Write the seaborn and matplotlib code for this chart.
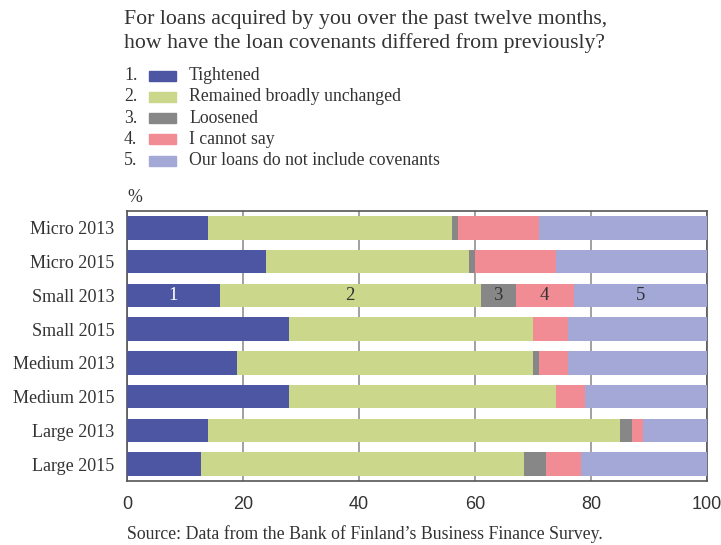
import seaborn as sns
import pandas as pd
import numpy as np
import matplotlib.pyplot as plt
from matplotlib.patches import Rectangle

# Survey answers, % of firms
groups = ['Micro 2013', 'Micro 2015', 'Small 2013', 'Small 2015',
          'Medium 2013', 'Medium 2015', 'Large 2013', 'Large 2015']
tightened = [14, 24, 16, 28, 19, 28, 14, 12.8]
unchanged = [42, 35, 45, 42, 51, 46, 71, 55.6]
loosened = [1, 1, 6, 0, 1, 0, 2, 3.9]
cannot_say = [14, 14, 10, 6, 5, 5, 2, 6.0]
no_covenants = [29, 26, 23, 24, 24, 21, 11, 21.7]

series_names = ['Tightened', 'Remained broadly unchanged', 'Loosened',
                'I cannot say', 'Our loans do not include covenants']
colors = ['#4d56a3', '#cbd78a', '#878787', '#f28c94', '#a3a8d6']
label_row = 'Small 2013'

df = pd.DataFrame({'group': groups,
                   series_names[0]: tightened,
                   series_names[1]: unchanged,
                   series_names[2]: loosened,
                   series_names[3]: cannot_say,
                   series_names[4]: no_covenants})
cum = df[series_names].cumsum(axis=1)
cum['group'] = df['group']

sns.set_theme(style='white')
plt.rcParams['font.family'] = ['Liberation Serif', 'DejaVu Serif']
txt = '#333333'

fig = plt.figure(figsize=(7.21, 5.45), dpi=100)
ax = fig.add_axes([127 / 721, 1 - 481 / 545, 580 / 721, 270 / 545])

# stacked bars: draw cumulative totals from the back to the front
for name, col in reversed(list(zip(series_names, colors))):
    sns.barplot(data=cum, y='group', x=name, color=col, orient='h',
                width=0.69, saturation=1, ax=ax, order=groups,
                linewidth=0, zorder=3)

# numbers inside the "Small 2013" bar
i = groups.index(label_row)
left = 0
for k, name in enumerate(series_names):
    w = df.loc[i, name]
    ax.text(left + w / 2, i, str(k + 1), ha='center', va='center',
            fontsize=13.5, color='white' if k == 0 else txt, zorder=5)
    left += w

ax.set_xlim(0, 100)
ax.set_ylim(len(groups) - 0.5, -0.5)
ax.set_xticks([0, 20, 40, 60, 80, 100])
ax.xaxis.grid(True, color='#888888', linewidth=1.1, zorder=0)
ax.set_axisbelow(True)
ax.set_xlabel('')
ax.set_ylabel('')
ax.tick_params(axis='x', length=0, pad=11, labelsize=13, labelcolor=txt)
ax.tick_params(axis='y', length=0, pad=9, labelsize=13, labelcolor=txt)
for lab in ax.get_xticklabels():
    lab.set_fontfamily('Liberation Sans')
for s in ax.spines.values():
    s.set_visible(True)
    s.set_color('#555555')
    s.set_linewidth(1.2)

# title
fig.text(124 / 721, 1 - 10 / 545,
         'For loans acquired by you over the past twelve months,\n'
         'how have the loan covenants differed from previously?',
         fontsize=15.7, color=txt, va='top', linespacing=1.3)

# legend drawn by hand: number, swatch, label
for k, (name, col) in enumerate(zip(series_names, colors)):
    yc = 1 - (75.5 + k * 21.3) / 545
    fig.text(124 / 721, yc, f'{k + 1}.', fontsize=12.8, color=txt, va='center')
    fig.add_artist(Rectangle((149 / 721, yc - 5 / 545), 27 / 721, 10 / 545,
                             transform=fig.transFigure, color=col))
    fig.text(189 / 721, yc, name, fontsize=12.8, color=txt, va='center')

fig.text(127 / 721, 1 - 197 / 545, '%', fontsize=12.8, color=txt, va='center')
fig.text(127 / 721, 1 - 534 / 545,
         'Source: Data from the Bank of Finland\u2019s Business Finance Survey.',
         fontsize=12.8, color=txt, va='center')

fig.savefig('out.png', dpi=100)
